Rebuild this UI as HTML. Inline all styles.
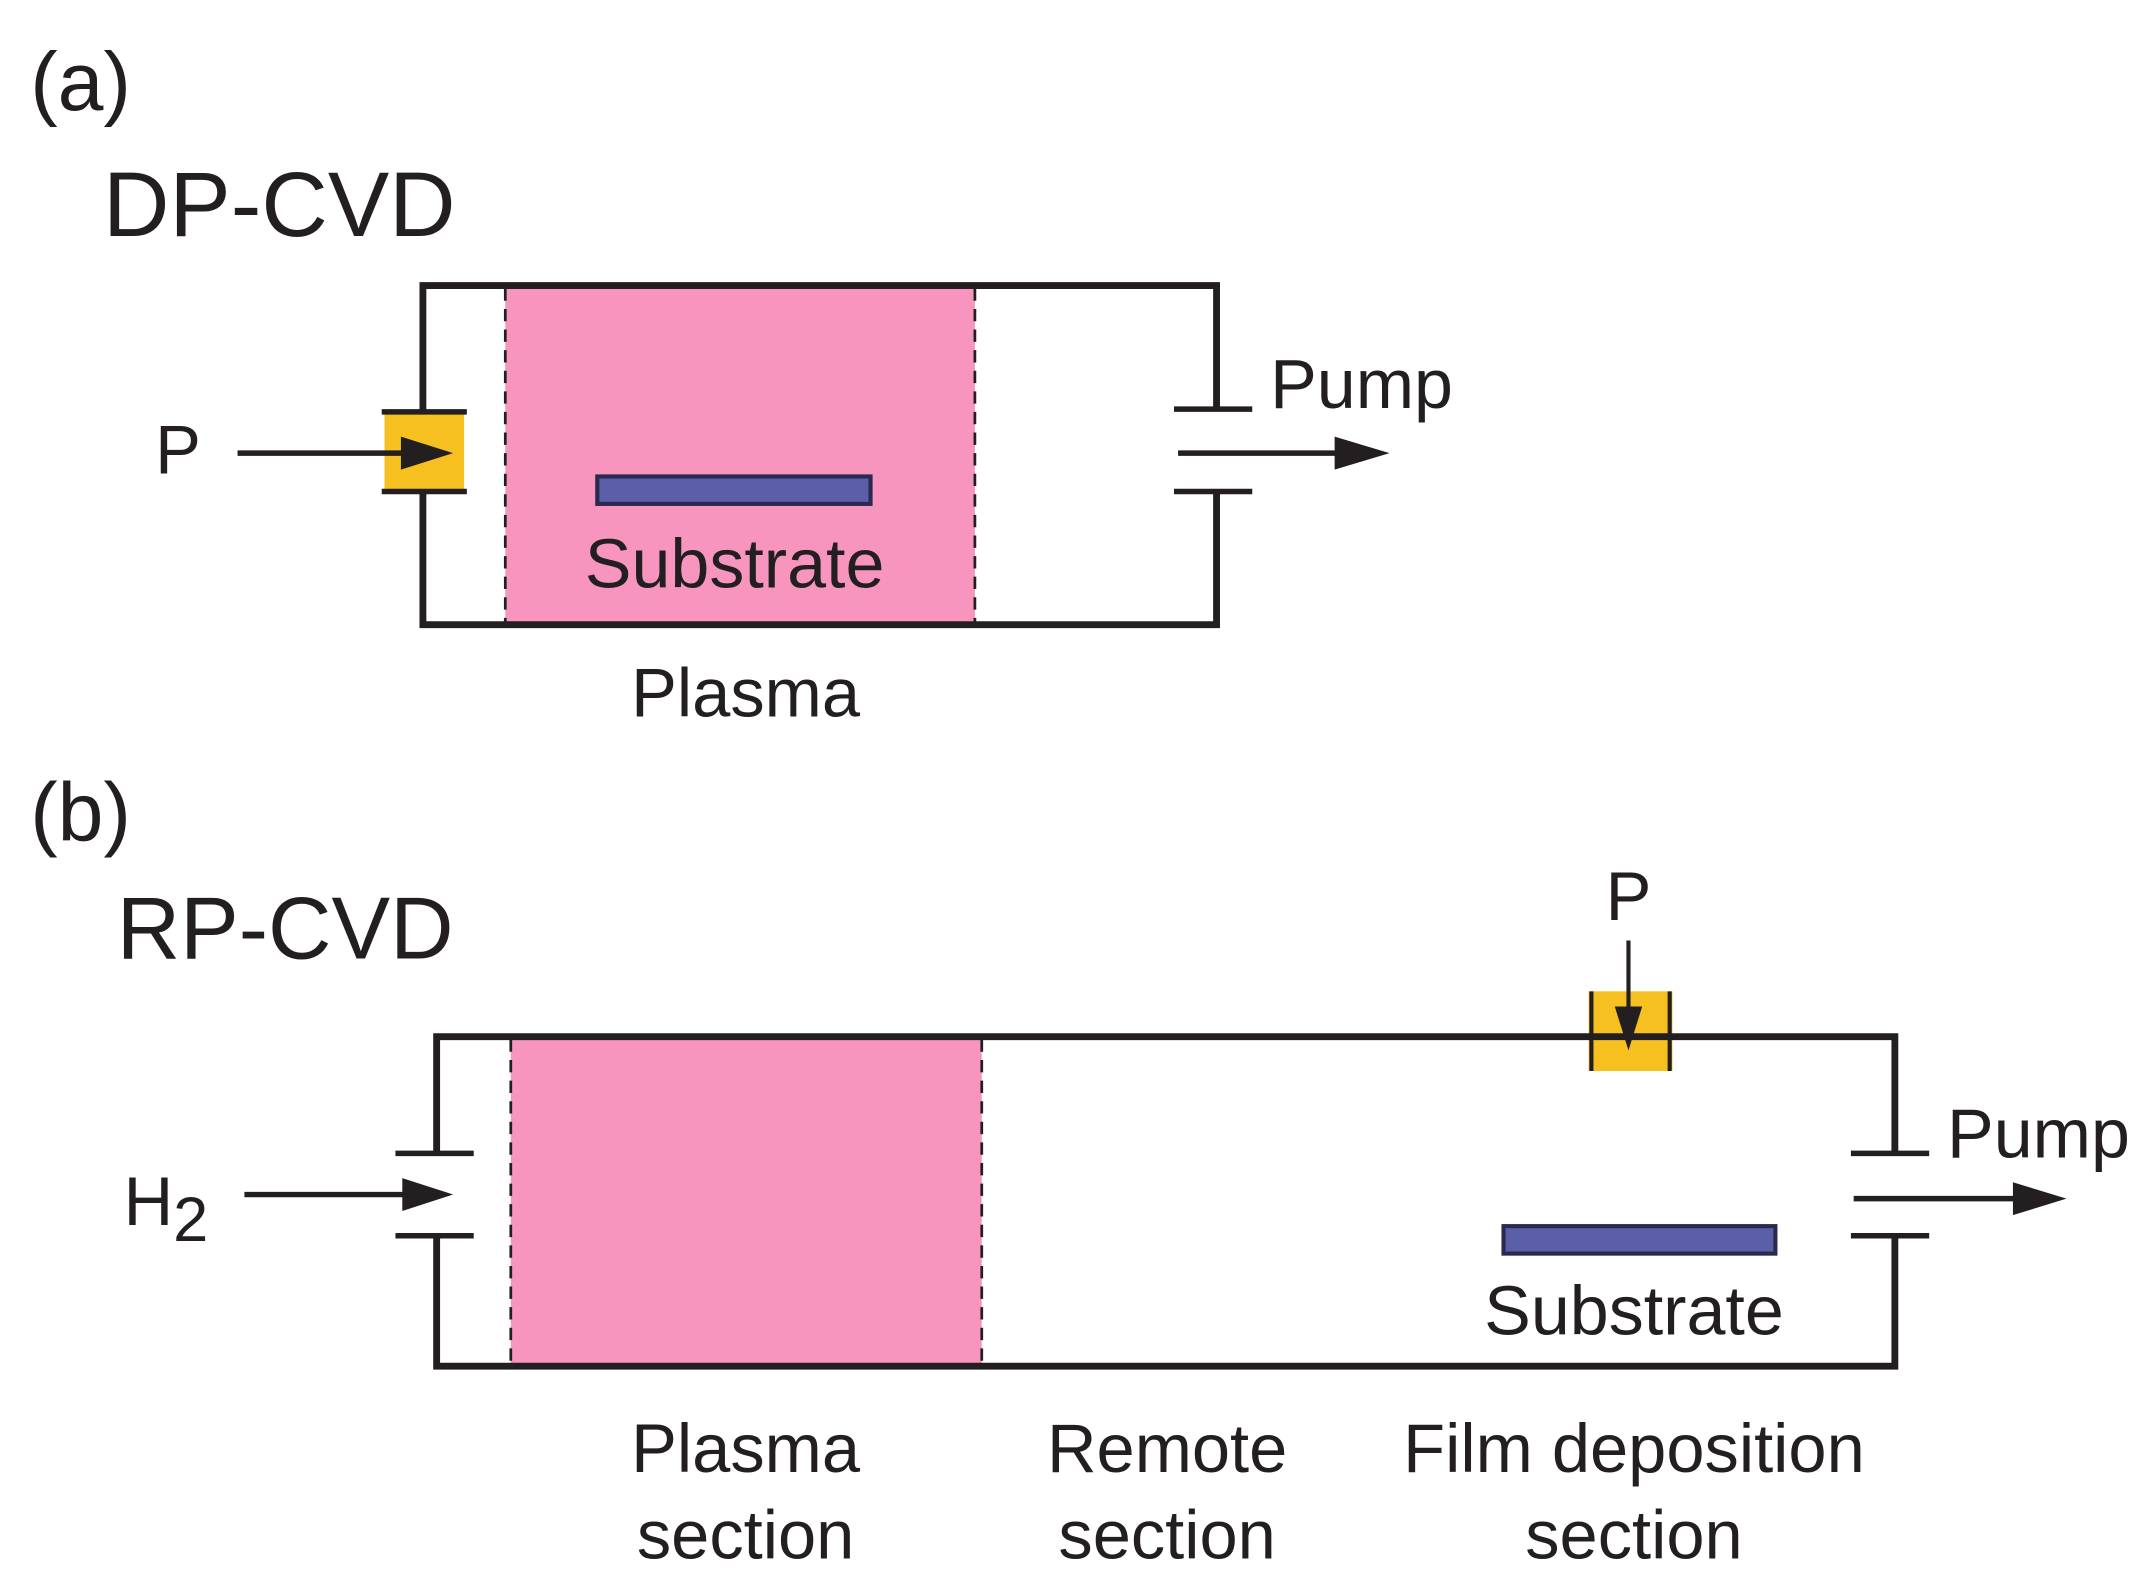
<!DOCTYPE html>
<html><head><meta charset="utf-8"><style>
html,body{margin:0;padding:0;background:#fff;}
svg{display:block;}
text{font-family:"Liberation Sans",sans-serif;fill:#231f20;}
</style></head><body>
<svg width="2153" height="1590" viewBox="0 0 1568 1158" preserveAspectRatio="none" xmlns="http://www.w3.org/2000/svg">
<!-- (a) -->
<text x="22" y="80" font-size="60">(a)</text>
<text x="75" y="172" font-size="67">DP-CVD</text>
<rect x="368" y="208" width="342" height="247" fill="#f795bf"/>
<line x1="368" y1="210" x2="368" y2="453" stroke="#231f20" stroke-width="2" stroke-dasharray="9,6"/>
<line x1="710" y1="210" x2="710" y2="453" stroke="#231f20" stroke-width="2" stroke-dasharray="9,6"/>
<rect x="280" y="300" width="58" height="58" fill="#f6c020"/>
<g stroke="#231f20" stroke-width="5" fill="none">
<polyline points="308,300 308,208 886,208 886,298"/>
<polyline points="308,358 308,455 886,455 886,358"/>
<line x1="278" y1="300" x2="340" y2="300" stroke-width="4"/>
<line x1="278" y1="358" x2="340" y2="358" stroke-width="4"/>
<line x1="855" y1="298" x2="912" y2="298" stroke-width="4"/>
<line x1="855" y1="358" x2="912" y2="358" stroke-width="4"/>
<line x1="173" y1="330" x2="292" y2="330" stroke-width="4"/>
<line x1="858" y1="330" x2="975" y2="330" stroke-width="4"/>
</g>
<polygon points="292,318 330,330 292,342" fill="#231f20"/>
<polygon points="972,318 1012,330 972,342" fill="#231f20"/>
<rect x="435" y="347" width="199" height="20" fill="#5a5fa8" stroke="#2a2a50" stroke-width="3"/>
<text x="535" y="428" font-size="51" text-anchor="middle">Substrate</text>
<text x="543" y="522" font-size="50" text-anchor="middle">Plasma</text>
<text x="925" y="297" font-size="51">Pump</text>
<text x="113" y="345" font-size="50">P</text>
<!-- (b) -->
<text x="22" y="612" font-size="60">(b)</text>
<text x="85" y="698" font-size="64">RP-CVD</text>
<rect x="372" y="755" width="343" height="240" fill="#f795bf"/>
<line x1="372" y1="757" x2="372" y2="993" stroke="#231f20" stroke-width="2" stroke-dasharray="9,6"/>
<line x1="715" y1="757" x2="715" y2="993" stroke="#231f20" stroke-width="2" stroke-dasharray="9,6"/>
<rect x="1157" y="722" width="61" height="58" fill="#f6c020"/>
<g stroke="#231f20" stroke-width="5" fill="none">
<polyline points="318,840 318,755 1380,755 1380,840"/>
<polyline points="318,900 318,995 1380,995 1380,900"/>
<line x1="288" y1="840" x2="345" y2="840" stroke-width="4"/>
<line x1="288" y1="900" x2="345" y2="900" stroke-width="4"/>
<line x1="1348" y1="840" x2="1405" y2="840" stroke-width="4"/>
<line x1="1348" y1="900" x2="1405" y2="900" stroke-width="4"/>
<line x1="1159" y1="722" x2="1159" y2="780" stroke-width="3"/>
<line x1="1216" y1="722" x2="1216" y2="780" stroke-width="3"/>
<line x1="178" y1="870" x2="295" y2="870" stroke-width="4"/>
<line x1="1350" y1="873" x2="1468" y2="873" stroke-width="4"/>
<line x1="1186" y1="685" x2="1186" y2="735" stroke-width="3"/>
</g>
<polygon points="293,858 330,870 293,882" fill="#231f20"/>
<polygon points="1466,861 1505,873 1466,885" fill="#231f20"/>
<polygon points="1176,733 1186,765 1196,733" fill="#231f20"/>
<rect x="1095" y="893" width="198" height="20" fill="#5a5fa8" stroke="#2a2a50" stroke-width="3"/>
<text x="1190" y="972" font-size="51" text-anchor="middle">Substrate</text>
<text x="1418" y="843" font-size="51">Pump</text>
<text x="1186" y="670" font-size="50" text-anchor="middle">P</text>
<text x="90" y="892" font-size="50">H<tspan font-size="46" dy="12">2</tspan></text>
<text x="543" y="1072" font-size="50" text-anchor="middle">Plasma</text>
<text x="543" y="1135" font-size="50" text-anchor="middle">section</text>
<text x="850" y="1072" font-size="50" text-anchor="middle">Remote</text>
<text x="850" y="1135" font-size="50" text-anchor="middle">section</text>
<text x="1190" y="1072" font-size="50" text-anchor="middle">Film deposition</text>
<text x="1190" y="1135" font-size="50" text-anchor="middle">section</text>
</svg>
</body></html>
